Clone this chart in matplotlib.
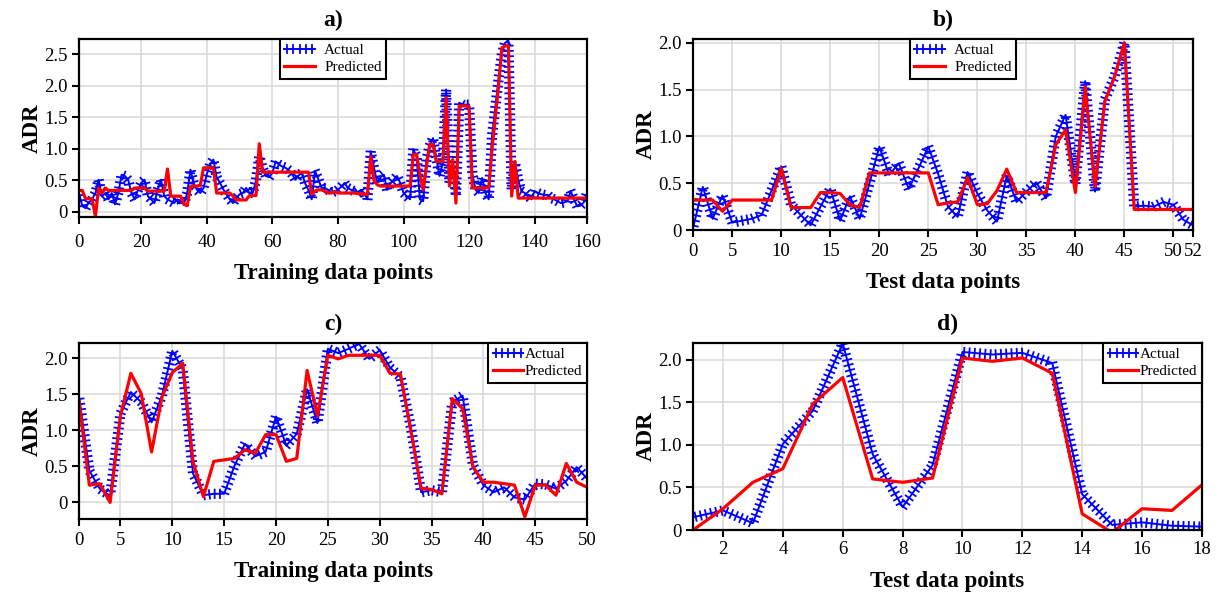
import matplotlib
matplotlib.use('Agg')
import matplotlib.pyplot as plt
import matplotlib.patheffects as pe
import numpy as np

plt.rcParams['font.family'] = ['Liberation Serif', 'DejaVu Serif']

BLUE = '#0000FF'
RED = '#FF0000'

# ── a) training set ──
a_actual = [0.30, 0.09, 0.06, 0.15, 0.20, 0.30, 0.51, 0.25, 0.30, 0.20,
            0.30, 0.12, 0.30, 0.59, 0.57, 0.51, 0.30, 0.20, 0.35, 0.46,
            0.51, 0.25, 0.20, 0.14, 0.35, 0.51, 0.25, 0.20, 0.17, 0.14,
            0.20, 0.18, 0.12, 0.30, 0.67, 0.45, 0.35, 0.30, 0.38, 0.60,
            0.75, 0.83, 0.55, 0.46, 0.36, 0.28, 0.20, 0.14, 0.22, 0.28,
            0.30, 0.38, 0.30, 0.30, 0.50, 0.88, 0.70, 0.57, 0.55, 0.62,
            0.80, 0.75, 0.72, 0.70, 0.66, 0.60, 0.51, 0.58, 0.62, 0.45,
            0.35, 0.20, 0.65, 0.52, 0.38, 0.38, 0.35, 0.30, 0.33, 0.35,
            0.40, 0.46, 0.38, 0.35, 0.33, 0.31, 0.35, 0.30, 0.20, 0.96,
            0.70, 0.46, 0.55, 0.59, 0.35, 0.45, 0.51, 0.57, 0.46, 0.30,
            0.25, 0.20, 0.99, 0.88, 0.20, 0.17, 0.83, 1.05, 1.17, 0.85,
            0.57, 0.78, 1.94, 0.46, 0.80, 0.25, 1.73, 1.70, 1.70, 1.70,
            0.60, 0.35, 0.30, 0.54, 0.30, 0.20, 1.20, 1.65, 2.10, 2.50,
            2.68, 2.71, 0.35, 0.78, 0.50, 0.33, 0.30, 0.25, 0.20, 0.33,
            0.30, 0.28, 0.27, 0.27, 0.22, 0.20, 0.17, 0.14, 0.15, 0.17,
            0.33, 0.20, 0.09, 0.10, 0.15, 0.30]
a_pred = [0.34, 0.34, 0.21, 0.21, 0.21, -0.07, 0.38, 0.30, 0.38, 0.34,
          0.34, 0.34, 0.34, 0.34, 0.34, 0.34, 0.34, 0.38, 0.38, 0.38,
          0.38, 0.33, 0.33, 0.33, 0.33, 0.33, 0.33, 0.68, 0.25, 0.25,
          0.25, 0.25, 0.12, 0.10, 0.40, 0.41, 0.41, 0.42, 0.70, 0.70,
          0.70, 0.70, 0.30, 0.30, 0.30, 0.30, 0.30, 0.25, 0.19, 0.19,
          0.19, 0.19, 0.26, 0.26, 0.26, 1.08, 0.63, 0.63, 0.63, 0.63,
          0.63, 0.63, 0.63, 0.63, 0.63, 0.63, 0.63, 0.63, 0.63, 0.63,
          0.63, 0.28, 0.33, 0.35, 0.35, 0.33, 0.30, 0.30, 0.32, 0.30,
          0.30, 0.30, 0.30, 0.30, 0.30, 0.29, 0.29, 0.28, 0.28, 0.88,
          0.50, 0.43, 0.41, 0.41, 0.41, 0.41, 0.41, 0.41, 0.41, 0.41,
          0.41, 0.41, 0.91, 0.91, 0.60, 0.35, 0.72, 1.07, 1.07, 0.80,
          0.80, 0.80, 1.81, 0.41, 0.83, 0.14, 1.68, 1.68, 1.68, 1.67,
          0.38, 0.38, 0.38, 0.38, 0.38, 0.38, 1.00, 1.50, 2.00, 2.60,
          2.63, 2.63, 0.25, 0.80, 0.22, 0.22, 0.22, 0.22, 0.22, 0.22,
          0.22, 0.22, 0.22, 0.22, 0.22, 0.22, 0.22, 0.22, 0.22, 0.22,
          0.22, 0.22, 0.22, 0.22, 0.22, 0.22]
a_xticks = [1, 20, 40, 60, 80, 100, 120, 140, 156]
a_xlabels = ['0', '20', '40', '60', '80', '100', '120', '140', '160']
a_yticks = [0, 0.5, 1.0, 1.5, 2.0, 2.5]
a_ylabels = ['0', '0.5', '1.0', '1.5', '2.0', '2.5']

# ── b) test set ──
b_actual = [0.02, 0.46, 0.12, 0.37, 0.08, 0.10, 0.12, 0.16, 0.42, 0.68,
            0.27, 0.16, 0.05, 0.25, 0.44, 0.10, 0.36, 0.12, 0.50, 0.89,
            0.59, 0.71, 0.44, 0.66, 0.89, 0.60, 0.25, 0.14, 0.62, 0.39,
            0.21, 0.09, 0.58, 0.30, 0.41, 0.51, 0.34, 1.00, 1.23, 0.49,
            1.59, 0.41, 1.39, 1.64, 2.00, 0.25, 0.26, 0.25, 0.30, 0.27,
            0.11, 0.05]
b_pred = [0.32, 0.32, 0.32, 0.20, 0.32, 0.32, 0.32, 0.32, 0.32, 0.66,
          0.24, 0.24, 0.24, 0.40, 0.40, 0.39, 0.27, 0.24, 0.61, 0.61,
          0.61, 0.61, 0.61, 0.61, 0.61, 0.27, 0.29, 0.30, 0.56, 0.27,
          0.28, 0.42, 0.65, 0.40, 0.40, 0.40, 0.40, 0.91, 1.07, 0.40,
          1.53, 0.46, 1.37, 1.64, 2.00, 0.22, 0.22, 0.22, 0.22, 0.22,
          0.22, 0.22]
b_xticks = [1, 5, 10, 15, 20, 25, 30, 35, 40, 45, 50, 52]
b_xlabels = ['0', '5', '10', '15', '20', '25', '30', '35', '40', '45', '50', '52']

# ── c) training set ──
c_actual = [1.47, 0.44, 0.19, 0.09, 1.23, 1.53, 1.39, 1.11, 1.48, 2.10,
            1.85, 0.40, 0.10, 0.12, 0.12, 0.51, 0.81, 0.64, 0.70, 1.19,
            0.79, 0.95, 1.57, 1.10, 2.13, 2.07, 2.13, 2.20, 1.99, 2.11,
            1.87, 1.74, 1.05, 0.14, 0.17, 0.14, 1.39, 1.48, 0.51, 0.24,
            0.14, 0.21, 0.07, 0.04, 0.26, 0.25, 0.19, 0.30, 0.49, 0.33]
c_pred = [1.41, 0.24, 0.26, 0.00, 1.20, 1.79, 1.51, 0.70, 1.46, 1.80,
          1.93, 0.56, 0.08, 0.57, 0.59, 0.61, 0.73, 0.68, 0.94, 0.94,
          0.57, 0.61, 1.83, 1.20, 2.04, 1.99, 2.04, 2.04, 2.04, 2.04,
          1.79, 1.78, 1.00, 0.19, 0.18, 0.12, 1.44, 1.30, 0.49, 0.28,
          0.28, 0.26, 0.24, -0.20, 0.24, 0.24, 0.10, 0.54, 0.28, 0.21]
c_xticks = [1, 5, 10, 15, 20, 25, 30, 35, 40, 45, 50]
c_xlabels = ['0', '5', '10', '15', '20', '25', '30', '35', '40', '45', '50']

# ── d) test set ──
d_actual = [0.15, 0.23, 0.08, 1.01, 1.40, 2.19, 0.89, 0.27, 0.76,
            2.09, 2.06, 2.08, 1.96, 0.42, 0.06, 0.09, 0.05, 0.04]
d_pred = [0.00, 0.25, 0.56, 0.72, 1.48, 1.79, 0.60, 0.56, 0.61,
          2.02, 1.98, 2.02, 1.84, 0.19, -0.03, 0.25, 0.23, 0.53]
d_xticks = [2, 4, 6, 8, 10, 12, 14, 16, 18]
d_xlabels = ['2', '4', '6', '8', '10', '12', '14', '16', '18']

y_ticks = [0, 0.5, 1.0, 1.5, 2.0]
y_labels = ['0', '0.5', '1.0', '1.5', '2.0']

ticked = [pe.Normal(),
          pe.TickedStroke(spacing=3.8, angle=90, length=0.8, linewidth=1.3),
          pe.TickedStroke(spacing=3.8, angle=-90, length=0.8, linewidth=1.3)]


def panel(rect, actual, pred, title, xlabel, xticks, xlabels, yticks, ylabels,
          xlim, ylim, leg_loc, leg_anchor, textpad, xpad):
    ax = fig.add_axes(rect)
    x = np.arange(1, len(actual) + 1)
    ax.plot(x, actual, color=BLUE, lw=1.4, label='Actual', path_effects=ticked)
    ax.plot(x, pred, color=RED, lw=2.3, label='Predicted')
    ax.set_xlim(*xlim)
    ax.set_ylim(*ylim)
    ax.set_xticks(xticks)
    ax.set_xticklabels(xlabels)
    ax.set_yticks(yticks)
    ax.set_yticklabels(ylabels)
    ax.tick_params(direction='out', length=5, width=1.5, labelsize=13.5, pad=3)
    ax.tick_params(axis='x', pad=xpad)
    for s in ax.spines.values():
        s.set_linewidth(1.6)
    ax.grid(color='#d9d9d9', lw=1.1)
    ax.set_axisbelow(True)
    ax.set_title(title, fontsize=17, fontweight='bold', pad=9)
    ax.set_xlabel(xlabel, fontsize=16.5, fontweight='bold', labelpad=9)
    ax.set_ylabel('ADR', fontsize=16.5, fontweight='bold', labelpad=1)
    leg = ax.legend(loc=leg_loc, bbox_to_anchor=leg_anchor, fontsize=11,
                    fancybox=False, framealpha=1, edgecolor='black',
                    borderaxespad=0, handlelength=2.0, handletextpad=textpad,
                    labelspacing=0.2, borderpad=0.3)
    leg.get_frame().set_linewidth(1.5)
    return ax


fig = plt.figure(figsize=(12.21, 5.95), dpi=100)

panel([0.0647, 0.6353, 0.4161, 0.2992], a_actual, a_pred, 'a)',
      'Training data points', a_xticks, a_xlabels, a_yticks, a_ylabels,
      (1, 156), (-0.08, 2.74), 'upper center', (0.5, 1.0), 0.6, 7)
panel([0.5676, 0.6134, 0.4095, 0.3211], b_actual, b_pred, 'b)',
      'Test data points', b_xticks, b_xlabels, y_ticks, y_labels,
      (1, 52), (0, 2.04), 'upper center', (0.54, 1.0), 0.6, 4)
panel([0.0647, 0.1277, 0.4161, 0.2958], c_actual, c_pred, 'c)',
      'Training data points', c_xticks, c_xlabels, y_ticks, y_labels,
      (1, 50), (-0.23, 2.21), 'upper right', (1.0, 1.0), 0.1, 4)
panel([0.5676, 0.1092, 0.4168, 0.3143], d_actual, d_pred, 'd)',
      'Test data points', d_xticks, d_xlabels, y_ticks, y_labels,
      (1, 18), (0, 2.195), 'upper right', (1.0, 1.0), 0.1, 3)

fig.savefig('out.png', dpi=100, facecolor='white')
